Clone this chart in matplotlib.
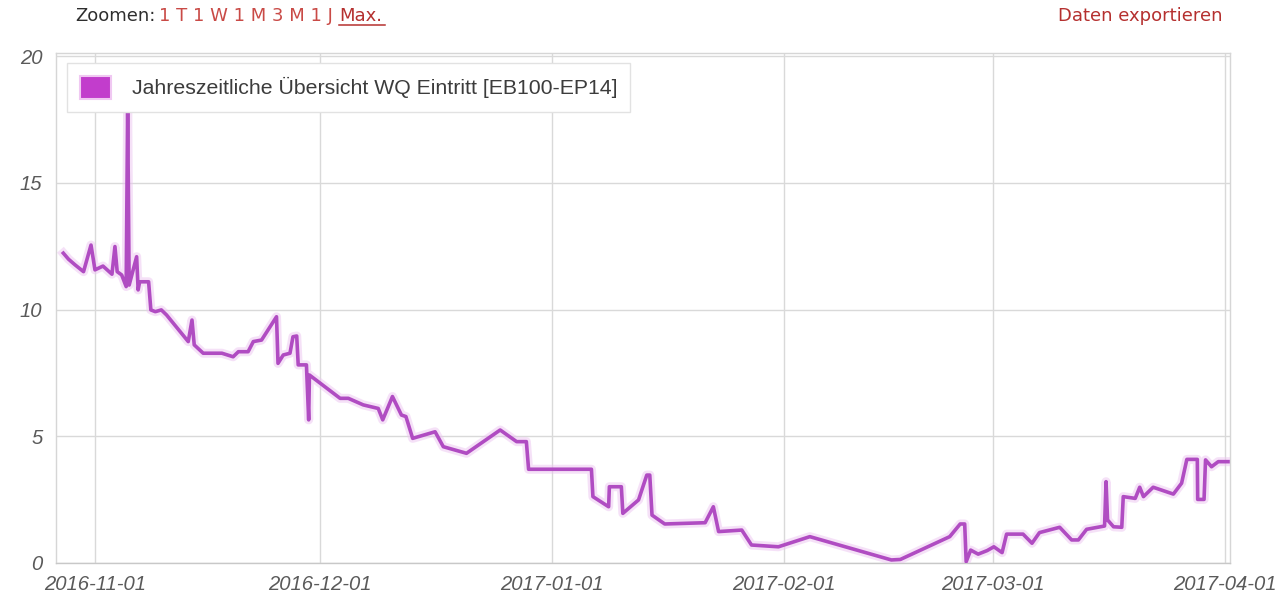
import matplotlib
matplotlib.use("Agg")
import matplotlib.pyplot as plt
import matplotlib.patheffects as pe
from matplotlib.lines import Line2D
from matplotlib.patches import Rectangle
import pandas as pd
import numpy as np

# ---------------- data ----------------
base_date = "2016-11-01"
# days relative to 2016-11-01
days = [-4.3, -3.6, -2.7, -1.6, -0.6, -0.07, 1.0, 2.2, 2.6, 2.9, 3.5, 4.1, 4.3, 4.5,
        5.5, 5.7, 5.9, 7.1, 7.4, 8.0, 8.8, 9.5, 12.4, 12.9, 13.2, 14.4, 16.9, 18.4,
        19.1, 20.4, 21.1, 22.2, 24.2, 24.4, 25.1, 26.0, 26.4, 26.9, 27.1, 28.2, 28.5,
        28.6, 32.7, 33.8, 35.8, 37.8, 38.4, 39.7, 40.9, 41.5, 42.4, 45.4, 46.5, 49.6,
        54.1, 56.3, 57.6, 57.9, 66.3, 66.5, 68.6, 68.7, 70.3, 70.5, 72.6, 73.7, 74.1,
        74.4, 76.1, 81.5, 82.6, 83.3, 86.4, 87.7, 91.3, 95.5, 106.4, 107.6, 114.2,
        115.6, 116.2, 116.4, 117.0, 118.0, 119.2, 120.1, 121.2, 121.8, 124.0, 125.2,
        126.2, 128.9, 130.5, 131.4, 132.5, 134.9, 135.1, 135.3, 136.1, 137.2, 137.4,
        139.0, 139.6, 140.1, 141.4, 144.1, 145.2, 145.9, 147.3, 147.35, 148.2, 148.4,
        149.2, 150.1, 151.4]
values = [12.23, 11.99, 11.76, 11.5, 12.55, 11.57, 11.72, 11.4, 12.49, 11.5, 11.37,
          10.91, 18.0, 10.97, 12.09, 10.78, 11.1, 11.1, 9.99, 9.92, 9.99, 9.79, 8.74,
          9.59, 8.61, 8.28, 8.28, 8.14, 8.34, 8.34, 8.74, 8.8, 9.72, 7.88, 8.21, 8.28,
          8.93, 8.96, 7.82, 7.82, 5.65, 7.42, 6.5, 6.5, 6.24, 6.1, 5.65, 6.57, 5.84,
          5.78, 4.92, 5.18, 4.59, 4.33, 5.25, 4.79, 4.79, 3.7, 3.7, 2.62, 2.22, 3.01,
          3.01, 1.96, 2.49, 3.47, 3.47, 1.89, 1.54, 1.59, 2.22, 1.24, 1.3, 0.71, 0.64,
          1.04, 0.12, 0.14, 1.04, 1.54, 1.54, 0.05, 0.51, 0.35, 0.49, 0.64, 0.41, 1.14,
          1.14, 0.78, 1.2, 1.41, 0.91, 0.91, 1.33, 1.46, 3.21, 1.7, 1.43, 1.41, 2.62,
          2.55, 2.99, 2.62, 2.99, 2.72, 3.15, 4.09, 4.09, 2.51, 2.51, 4.07, 3.8, 4.0,
          4.0]
series_name = "Jahreszeitliche Übersicht WQ Eintritt [EB100-EP14]"
x_ticks = ["2016-11-01", "2016-12-01", "2017-01-01", "2017-02-01", "2017-03-01", "2017-04-01"]
y_ticks = [0, 5, 10, 15, 20]

# ---------------- figure ----------------
W, H = 1280, 606
fig = plt.figure(figsize=(W / 100, H / 100), dpi=100)
FONT = ["Liberation Sans", "DejaVu Sans"]
plt.rcParams["font.family"] = FONT

L, R, T, B = 56.3, 1230, 52.5, 563
ax = fig.add_axes([L / W, (H - B) / H, (R - L) / W, (B - T) / H])

t0 = pd.Timestamp(base_date)
x = [t0 + pd.Timedelta(days=d) for d in days]

line_col = "#b04cc2"
ax.plot(x, values, color=line_col, lw=2.6, solid_joinstyle="round", zorder=3,
        path_effects=[pe.Stroke(linewidth=6.5, foreground="#ecc4f1", alpha=0.5),
                      pe.Normal()])

ax.set_ylim(0, 20.15)
ax.set_xlim(t0 - pd.Timedelta(days=5.24), t0 + pd.Timedelta(days=151.67))

xt = [pd.Timestamp(s) for s in x_ticks]
ax.set_xticks(xt)
ax.set_xticklabels(x_ticks)
ax.set_yticks(y_ticks)
ax.set_yticklabels([str(v) for v in y_ticks])

for lab in ax.get_xticklabels() + ax.get_yticklabels():
    lab.set_fontstyle("italic")
    lab.set_color("#5a5a5a")
    lab.set_fontsize(14.6)
ax.tick_params(axis="both", length=0)
ax.tick_params(axis="x", pad=9)
ax.tick_params(axis="y", pad=10)

ax.grid(True, color="#d9d9d9", lw=1.0)
ax.set_axisbelow(True)
for s in ax.spines.values():
    s.set_color("#d6d6d6")
    s.set_linewidth(1.0)
ax.spines["bottom"].set_color("#c8c8c8")

# legend
handle = Rectangle((0, 0), 1, 1, facecolor="#c23dcc", edgecolor="#f0c8f2", lw=1.5)
leg = ax.legend([handle], [series_name], loc="upper left",
                bbox_to_anchor=((67 - L) / (R - L), (B - 63) / (B - T)),
                borderaxespad=0, frameon=True, fancybox=False, fontsize=15.3,
                handlelength=1.45, handleheight=1.3, handletextpad=1.0,
                borderpad=0.6, labelcolor="#3c3c3c")
leg.get_frame().set_edgecolor("#e2e2e2")
leg.get_frame().set_linewidth(1.0)
leg.get_frame().set_alpha(1.0)

# top controls
TOPFONT = ["DejaVu Sans"]
red = "#b5302f"
ty = 1 - 16 / H
fs = 13.0
fig.text(75 / W, ty, "Zoomen:", fontsize=fs, color="#2e2e2e", va="center", ha="left", family=TOPFONT)
fig.text(159 / W, ty, "1 T 1 W 1 M 3 M 1 J", fontsize=fs, color="#c94a46", va="center", ha="left", family=TOPFONT)
fig.text(339 / W, ty, "Max.", fontsize=fs, color=red, va="center", ha="left", family=TOPFONT)
fig.add_artist(Line2D([339 / W, 385 / W], [1 - 25 / H, 1 - 25 / H], color=red, lw=1.1))
fig.text(1222 / W, ty, "Daten exportieren", fontsize=fs, color=red, va="center", ha="right", family=TOPFONT)

fig.savefig("out.png", dpi=100)
